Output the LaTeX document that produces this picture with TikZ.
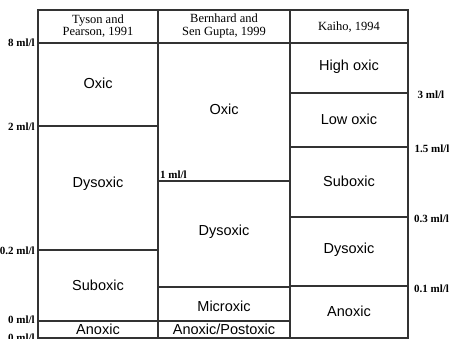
\documentclass[tikz,border=0pt]{standalone}
\usepackage{fontspec}
\setmainfont{Liberation Serif}
\newfontfamily\cellfont{Liberation Sans}
\begin{document}
\begin{tikzpicture}[x=1pt,y=-1pt,
  grid/.style={draw=black!80,line width=1.1pt},
  cell/.style={font=\cellfont\fontsize{14.5}{16}\selectfont,inner sep=0pt},
  head/.style={font=\fontsize{12.5}{12.5}\selectfont,align=center,inner sep=0pt},
  lval/.style={font=\bfseries\fontsize{11}{12}\selectfont,inner sep=0pt,anchor=east},
  rval/.style={font=\bfseries\fontsize{11}{12}\selectfont,inner sep=0pt,anchor=west}]
\useasboundingbox (0,0) rectangle (449,339);
% column 1
\draw[grid] (38,10) rectangle (158,43);
\draw[grid] (38,43) rectangle (158,126);
\draw[grid] (38,126) rectangle (158,250);
\draw[grid] (38,250) rectangle (158,321);
\draw[grid] (38,321) rectangle (158,338);
% column 2
\draw[grid] (158,10) rectangle (290,43);
\draw[grid] (158,43) rectangle (290,181);
\draw[grid] (158,181) rectangle (290,287);
\draw[grid] (158,287) rectangle (290,321);
\draw[grid] (158,321) rectangle (290,338);
% column 3
\draw[grid] (290,10) rectangle (408,43);
\draw[grid] (290,43) rectangle (408,93);
\draw[grid] (290,93) rectangle (408,147);
\draw[grid] (290,147) rectangle (408,217);
\draw[grid] (290,217) rectangle (408,286);
\draw[grid] (290,286) rectangle (408,338);
% headers
\node[head] (h1) at (98,26) {Tyson and\\Pearson, 1991};
\node[head] (h2) at (224,26) {Bernhard and\\Sen Gupta, 1999};
\node[head] (h3) at (349,27) {Kaiho, 1994};
% column 1 labels
\node[cell] (c1a) at (98,83) {Oxic};
\node[cell] (c1b) at (98,184) {Dysoxic};
\node[cell] (c1c) at (98,285) {Suboxic};
\node[cell] (c1d) at (98,329.5) {Anoxic};
% column 2 labels
\node[cell] (c2a) at (224,109) {Oxic};
\node[cell] (c2b) at (224,232) {Dysoxic};
\node[cell] (c2c) at (224,306) {Microxic};
\node[cell] (c2d) at (224,329.5) {Anoxic/Postoxic};
% column 3 labels
\node[cell] (c3a) at (349,67) {High oxic};
\node[cell] (c3b) at (349,119) {Low oxic};
\node[cell] (c3c) at (349,181) {Suboxic};
\node[cell] (c3d) at (349,250) {Dysoxic};
\node[cell] (c3e) at (349,311) {Anoxic};
% left values
\node[lval] (l8) at (35,43) {8 ml/l};
\node[lval] (l2) at (35,127) {2 ml/l};
\node[lval] (l02) at (35,251) {0.2 ml/l};
\node[lval] (l0) at (35,320) {0 ml/l};
\node[lval] (l00) at (35,337.5) {0 ml/l};
% middle value
\node[font=\bfseries\fontsize{11}{12}\selectfont,inner sep=0pt,anchor=south west] (m1) at (160,179) {1 ml/l};
% right values
\node[rval] (r3) at (417.5,95) {3 ml/l};
\node[rval] (r15) at (414.5,148.5) {1.5 ml/l};
\node[rval] (r03) at (414,219) {0.3 ml/l};
\node[rval] (r01) at (414,288.5) {0.1 ml/l};
\end{tikzpicture}
\end{document}
